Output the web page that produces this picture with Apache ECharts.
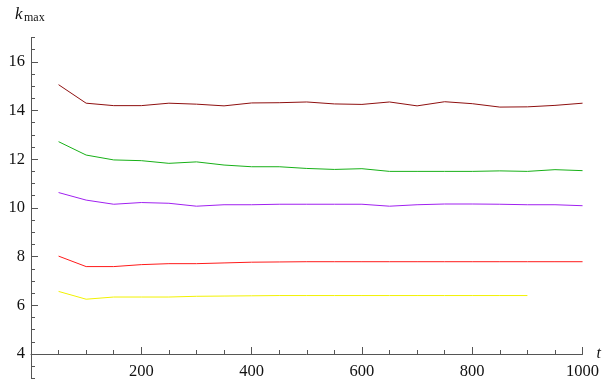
<!DOCTYPE html>
<html>
<head>
<meta charset="utf-8">
<script src="https://cdn.jsdelivr.net/npm/echarts@6/dist/echarts.min.js"></script>
<style>html,body{margin:0;padding:0;background:#fff}#c{width:604px;height:381px}</style>
</head>
<body>
<div id="c"></div>
<script>
const tVals = [50,100,150,200,250,300,350,400,450,500,550,600,650,700,750,800,850,900,950,1000];
const sDarkRed = [15.06,14.30,14.20,14.20,14.30,14.26,14.19,14.31,14.32,14.35,14.27,14.25,14.35,14.19,14.36,14.28,14.14,14.15,14.21,14.30];
const sGreen   = [12.72,12.17,11.97,11.94,11.83,11.89,11.76,11.69,11.69,11.62,11.58,11.61,11.50,11.50,11.50,11.50,11.52,11.50,11.57,11.53];
const sPurple  = [10.63,10.32,10.15,10.22,10.19,10.07,10.13,10.13,10.15,10.15,10.15,10.15,10.07,10.13,10.16,10.16,10.15,10.13,10.13,10.09];
const sRed     = [8.02,7.59,7.59,7.67,7.71,7.71,7.74,7.77,7.78,7.79,7.79,7.79,7.79,7.79,7.79,7.79,7.79,7.79,7.79,7.79];
const sYellow  = [6.57,6.25,6.34,6.34,6.34,6.37,6.38,6.39,6.40,6.40,6.40,6.40,6.40,6.40,6.40,6.40,6.40,6.40];
const xMajorLabels = [200,400,600,800,1000];
const yMajorLabels = [4,6,8,10,12,14,16];

const FONT = "Liberation Serif";
const AX = '#555';
function pairs(vals){ return vals.map((v,i)=>[tVals[i], v]); }
function line(vals, color){
  return {type:'line', data:pairs(vals), showSymbol:false, symbol:'none', smooth:false,
    lineStyle:{color:color, width:1}, silent:true, animation:false};
}
const chart = echarts.init(document.getElementById('c'));
chart.setOption({
  animation:false,
  textStyle:{fontFamily:FONT},
  grid:{left:31, right:20.5, top:37.45, bottom:2.65, containLabel:false},
  xAxis:[{
    type:'value', min:0, max:1000, interval:200, position:'bottom', offset:-24.35,
    axisLine:{show:true, onZero:false, lineStyle:{color:AX, width:1}},
    axisTick:{show:true, inside:true, length:7, lineStyle:{color:AX}},
    minorTick:{show:true, splitNumber:4, length:4, lineStyle:{color:AX}},
    splitLine:{show:false},
    axisLabel:{margin:9, color:'#111', fontFamily:FONT, fontSize:16.5,
      customValues: xMajorLabels, formatter:(v)=>String(v)},
    name:'t', nameLocation:'end', nameGap:14,
    nameTextStyle:{fontFamily:FONT, fontStyle:'italic', fontSize:16, color:'#111', padding:[0,0,6,0]}
  }],
  yAxis:[{
    type:'value', min:3, max:17, interval:0.5, position:'left',
    axisLine:{show:true, onZero:false, lineStyle:{color:AX, width:1}},
    axisTick:{show:true, inside:true, length:4, lineStyle:{color:AX}},
    splitLine:{show:false},
    axisLabel:{margin:6, color:'#111', fontFamily:FONT, fontSize:16.5, customValues: yMajorLabels,
      formatter:(v)=>String(v)}
  },{
    type:'value', min:3, max:17, interval:0.5, position:'left', offset:0,
    axisLine:{show:false},
    axisTick:{show:true, inside:true, length:7, lineStyle:{color:AX}, customValues: yMajorLabels},
    splitLine:{show:false},
    axisLabel:{show:false}
  }],
  series:[
    line(sDarkRed,'#8e0f0f'),
    line(sGreen,'#17b017'),
    line(sPurple,'#a020f0'),
    line(sRed,'#ff1a1a'),
    line(sYellow,'#f2f200')
  ],
  graphic:[
    {type:'text', left:15, top:6, style:{text:'k', fontFamily:FONT, fontStyle:'italic', fontSize:17, fill:'#111'}},
    {type:'text', left:24, top:12, style:{text:'max', fontFamily:FONT, fontSize:12, fill:'#111'}}
  ]
});
</script>
</body>
</html>
